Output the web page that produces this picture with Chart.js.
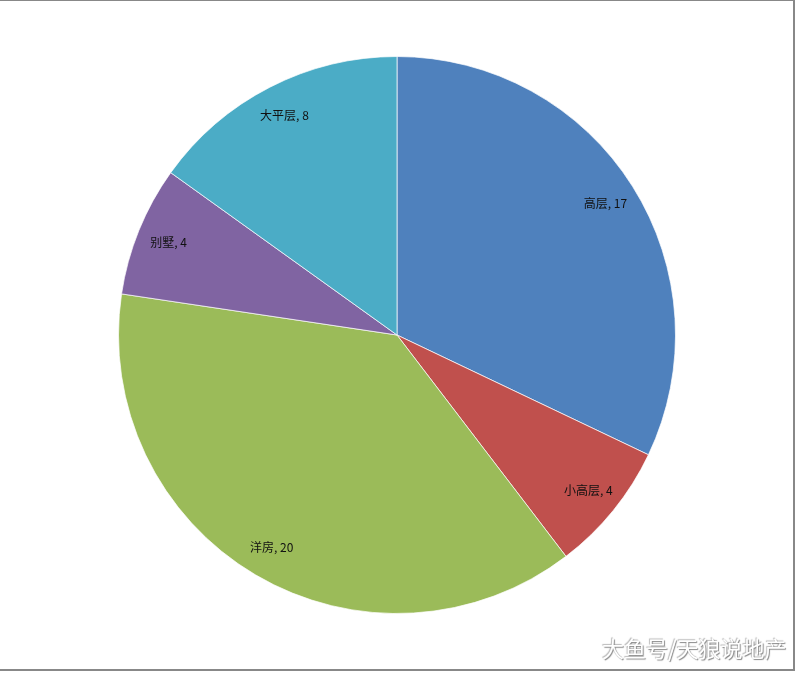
<!DOCTYPE html>
<html>
<head>
<meta charset="utf-8">
<script src="https://cdn.jsdelivr.net/npm/chart.js@4.4.0/dist/chart.umd.min.js"></script>
<style>
    html, body { margin: 0; padding: 0; background: #fff; }
    #wrap { position: relative; width: 797px; height: 673px; }
    #frame {
        position: absolute; left: 0; top: 0; width: 795px; height: 671px;
        border-top: 1px solid #888; border-right: 2px solid #888; border-bottom: 2px solid #888;
        box-sizing: border-box; pointer-events: none;
    }
    #mark {
        position: absolute; left: 602px; top: 631px;
        font-family: "Noto Sans CJK SC", sans-serif; font-size: 22px;
        color: #fff; text-shadow: 1px 1px 1px #888, -1px -1px 1px #bbb;
    }
</style>
</head>
<body>
<div id="wrap">
    <canvas id="pieChart" width="797" height="673"></canvas>
    <div id="frame"></div>
    <div id="mark">大鱼号/天狼说地产</div>
</div>
<script>
// Data
const categories = ['高层', '小高层', '洋房', '别墅', '大平层'];
const counts = [17, 4, 20, 4, 8];
const sliceColors = ['#4F81BD', '#C0504D', '#9BBB59', '#8064A2', '#4BACC6'];

// Draws "name, value" inside each slice near the rim
const sliceLabels = {
    id: 'sliceLabels',
    afterDatasetsDraw(chart) {
        const ctx = chart.ctx;
        const meta = chart.getDatasetMeta(0);
        ctx.save();
        ctx.font = '12px "Noto Sans CJK SC", sans-serif';
        ctx.fillStyle = '#111';
        ctx.textAlign = 'center';
        ctx.textBaseline = 'middle';
        meta.data.forEach((arc, i) => {
            const mid = (arc.startAngle + arc.endAngle) / 2;
            const r = arc.outerRadius * 0.885;
            const x = arc.x + Math.cos(mid) * r;
            const y = arc.y + Math.sin(mid) * r;
            ctx.fillText(categories[i] + ', ' + counts[i], x, y);
        });
        ctx.restore();
    }
};

new Chart(document.getElementById('pieChart'), {
    type: 'pie',
    data: {
        labels: categories,
        datasets: [{
            data: counts,
            backgroundColor: sliceColors,
            borderColor: 'rgba(255,255,255,0.7)',
            borderWidth: 1
        }]
    },
    options: {
        responsive: false,
        animation: false,
        layout: {
            padding: { top: 56, bottom: 59, left: 118, right: 121 }
        },
        plugins: {
            legend: { display: false },
            tooltip: { enabled: false }
        }
    },
    plugins: [sliceLabels]
});
</script>
</body>
</html>
